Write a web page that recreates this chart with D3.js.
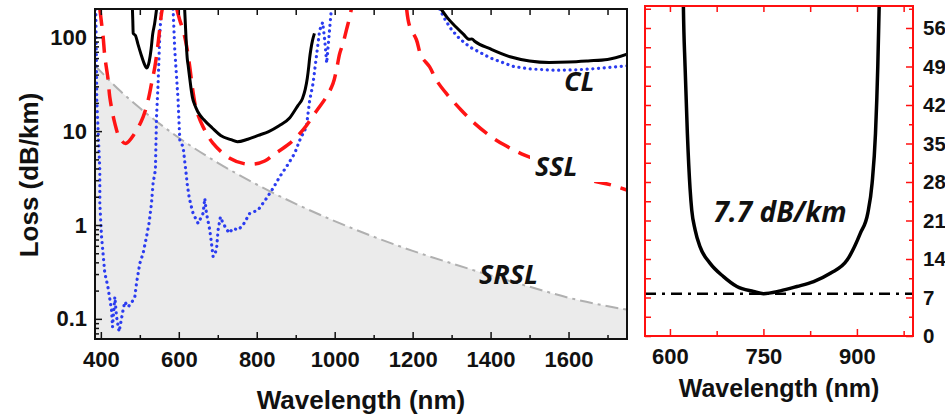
<!DOCTYPE html>
<html><head><meta charset="utf-8">
<script src="https://cdn.jsdelivr.net/npm/d3@7"></script>
<style>
body{margin:0;background:#fff;}
svg{display:block;}
text{font-family:"Liberation Sans",Arial,sans-serif;font-weight:bold;fill:#111;}
.lbl{font-family:"Open Sans","Lato",sans-serif;font-style:italic;font-weight:bold;}
</style></head><body>
<svg id="c" width="945" height="417"></svg>
<script>
// ---------- DATA ----------
// Left panel: loss (dB/km) vs wavelength (nm), log scale
const xTicksLeft = [400, 600, 800, 1000, 1200, 1400, 1600];
const yTicksLeft = [0.1, 1, 10, 100];
const yTickLabelsLeft = ["0.1", "1", "10", "100"];

// SRSL (surface roughness scattering loss) - grey dash-dot, filled
const srslWl   = [385, 450, 500, 600, 700, 800, 900, 1000, 1100, 1200, 1300, 1400, 1500, 1600, 1750];
const srslLoss = [50, 26.7, 17.6, 8.5, 4.6, 2.7, 1.68, 1.10, 0.75, 0.53, 0.39, 0.29, 0.22, 0.168, 0.125];

// CL (confinement loss, measured) - black solid, three segments
const clSeg1 = [[481,200],[482,150],[483,110],[489,104],[495,85],[503,66],[510,54],[518,47],[524,55],[529,75],[533,108],[538,140],[543,200]];
const clSeg2 = [[615,200],[618,110],[620,75],[621.6,59.9],[624.3,49],[628,36.8],[632.3,26.8],[635,22.9],[640.4,19.3],[648.4,16.2],[664.5,13.2],[685.9,10.8],[707.4,9.0],[734.1,8.1],[750.2,7.7],[777,8.2],[803.9,9.0],[830.6,9.9],[857.4,11.4],[884.3,13.8],[905.6,18.7],[917.4,22.3],[924.4,27.8],[929.8,36.8],[933.5,49],[935.7,59.9],[939,75],[943,92],[948,110]];
const clSeg3 = [[1273,200],[1290,160],[1310,130],[1330,108],[1345,95],[1352,96],[1360,90],[1400,75],[1450,62],[1500,56],[1550,54],[1600,54.5],[1650,56],[1700,58],[1750,66]];

// Blue dotted curve - three segments
const blueSeg1 = [[387,200],[389.7,21],[397.4,3.85],[397.4,1.71],[401.8,0.75],[410,0.31],[418,0.22],[427.4,0.125],[430,0.082],[435.9,0.171],[440.3,0.105],[446.9,0.073],[457.2,0.125],[461.5,0.152],[470,0.134],[478.7,0.148],[487.2,0.171],[491.5,0.24],[500,0.39],[508.5,0.5],[517.2,0.75],[523.8,1.05],[530,1.71],[534.1,2.8],[540,3.85],[542.8,14.1],[546.9,32],[551.3,110],[555.6,200]];
const blueSeg2 = [[585.4,200],[589.7,72.8],[598.2,21.4],[602.6,8.0],[611,6.8],[619.7,3.27],[621.3,2.78],[626.4,2.0],[630,1.7],[636.7,1.33],[649.5,1.04],[662.3,1.33],[666.7,1.92],[671,1.33],[679.5,0.885],[683.8,0.64],[688,0.46],[696.7,0.54],[700.8,0.885],[706.9,1.22],[713.6,1.04],[729,0.82],[739.2,0.92],[752,0.885],[764.9,1.0],[782,1.33],[803.3,1.44],[824.9,1.92],[841.8,2.46],[859,3.27],[876.2,4.17],[897.4,5.8],[910.3,8.0],[927.4,11.1],[935.9,21.4],[944.4,32],[953,62],[961.5,119],[969.2,144],[974.4,93],[979.5,53],[984.6,93],[991.5,200]];
const blueSeg3 = [[1269,200],[1285,150],[1300,120],[1320,97],[1346,79],[1400,60],[1457,49],[1500,46],[1568,44.5],[1620,45],[1671,46.4],[1750,49.5]];

// SSL (red dashed) - three segments
const sslSeg1 = [[397.4,200],[401.8,141],[405.9,100.7],[410.3,62],[418.7,35],[423,23],[435.9,12.1],[448.7,8.4],[464,7.4],[487.2,9.5],[508.5,14.2],[521.3,21.4],[530,32],[538.5,48.3],[546.9,86],[555.6,179],[557.7,200]];
const sslSeg2 = [[594.9,200],[602.6,152],[611,119],[619.7,82],[628.2,48.3],[635.9,27.3],[645.4,16.7],[662.3,11.1],[688,7.4],[730.8,5.13],[764.9,4.53],[794.9,4.46],[820.5,4.8],[841.8,5.56],[884.6,7.4],[918.7,10.3],[948.7,15.4],[978.7,23.2],[995.6,32],[1004.4,44.6],[1012.8,67],[1021.3,86],[1030,119],[1038.5,164],[1042.8,200]];
const sslSeg3 = [[1184.6,200],[1192.3,131],[1209.5,94.6],[1222.3,62.7],[1243.6,48.3],[1260.8,35],[1286.4,25.2],[1324.9,16.7],[1359,12.1],[1401.8,8.7],[1435.9,7.1],[1487.2,5.56],[1577,4.04],[1653.8,3.01],[1709.5,2.67],[1750,2.36]];

// Right panel: linear zoom on the CL minimum
const xTicksRight = [600, 750, 900];
const yTicksRight = [0, 7, 14, 21, 28, 35, 42, 49, 56];
const minLoss = 7.7;
const minLabel = "7.7 dB/km";

const curveLabels = ["CL", "SSL", "SRSL"];

// ---------- DRAW ----------
const svg = d3.select("#c");

// ===== Left panel =====
const L = {x0: 95, x1: 627, y0: 9, y1: 339};
const xL = d3.scaleLinear().domain([385, 1750]).range([L.x0, L.x1]);
const yL = d3.scaleLog().domain([0.061, 200]).range([L.y1, L.y0]);

svg.append("clipPath").attr("id", "clipL").append("rect")
  .attr("x", L.x0).attr("y", L.y0).attr("width", L.x1 - L.x0).attr("height", L.y1 - L.y0);
const gL = svg.append("g").attr("clip-path", "url(#clipL)");

const srsl = srslWl.map((w, i) => [w, srslLoss[i]]);
gL.append("path").datum(srsl)
  .attr("d", d3.area().x(d => xL(d[0])).y0(L.y1 + 5).y1(d => yL(d[1])).curve(d3.curveMonotoneX))
  .attr("fill", "#ebebeb");
gL.append("path").datum(srsl)
  .attr("d", d3.line().x(d => xL(d[0])).y(d => yL(d[1])).curve(d3.curveMonotoneX))
  .attr("fill", "none").attr("stroke", "#b0b0b0").attr("stroke-width", 2)
  .attr("stroke-dasharray", "13,5,3,5");

const lineL = d3.line().x(d => xL(d[0])).y(d => yL(d[1]));
const smoothL = d3.line().x(d => xL(d[0])).y(d => yL(d[1])).curve(d3.curveCatmullRom);
const monoL = d3.line().x(d => xL(d[0])).y(d => yL(d[1])).curve(d3.curveMonotoneX);

[blueSeg1, blueSeg2, blueSeg3].forEach(s => {
  gL.append("path").datum(s).attr("d", lineL)
    .attr("fill", "none").attr("stroke", "#2b3cf0").attr("stroke-width", 3.2)
    .attr("stroke-linecap", "round").attr("stroke-dasharray", "0.1,5.6");
});
[sslSeg1, sslSeg2, sslSeg3].forEach(s => {
  gL.append("path").datum(s).attr("d", smoothL)
    .attr("fill", "none").attr("stroke", "#ff1414").attr("stroke-width", 3.5)
    .attr("stroke-dasharray", "17,10");
});
[clSeg1, clSeg2, clSeg3].forEach(s => {
  gL.append("path").datum(s).attr("d", monoL)
    .attr("fill", "none").attr("stroke", "#000").attr("stroke-width", 3)
    .attr("stroke-linejoin", "round");
});

// labels
svg.append("rect").attr("x", 530).attr("y", 148).attr("width", 76).attr("height", 34).attr("fill", "#fff");
svg.append("text").attr("class", "lbl").attr("x", 564).attr("y", 91).attr("font-size", 27).text(curveLabels[0]);
svg.append("text").attr("class", "lbl").attr("x", 535).attr("y", 176).attr("font-size", 27).text(curveLabels[1]);
svg.append("text").attr("class", "lbl").attr("x", 479).attr("y", 284).attr("font-size", 27).text(curveLabels[2]);

// axes left panel
const minorX = d3.range(400, 1750, 100).filter(v => !xTicksLeft.includes(v));
svg.append("g").attr("transform", `translate(0,${L.y1})`)
  .call(d3.axisBottom(xL).tickValues(xTicksLeft).tickSize(-7).tickPadding(12).tickFormat(d3.format("d")));
svg.append("g").attr("transform", `translate(0,${L.y1})`)
  .call(d3.axisBottom(xL).tickValues(minorX).tickSize(-4).tickFormat(""));
svg.append("g").attr("transform", `translate(0,${L.y0})`)
  .call(d3.axisTop(xL).tickValues(d3.range(400, 1750, 100)).tickSize(-6).tickFormat(""));
svg.append("g").attr("transform", `translate(${L.x0},0)`)
  .call(d3.axisLeft(yL).tickValues(yTicksLeft).tickSize(-7).tickPadding(8).tickFormat((d, i) => yTickLabelsLeft[i]));
const minorY = [];
[0.01, 0.1, 1, 10, 100].forEach(b => { for (let k = 2; k <= 9; k++) { const v = b * k; if (v > 0.061 && v < 200) minorY.push(v); } });
svg.append("g").attr("transform", `translate(${L.x0},0)`)
  .call(d3.axisLeft(yL).tickValues(minorY).tickSize(-4).tickFormat(""));
svg.selectAll("g .domain").remove();
svg.selectAll("g .tick line").attr("stroke", "#111").attr("stroke-width", 1.5);
svg.selectAll("g .tick text").attr("font-size", 22).attr("fill", "#111");

svg.append("rect").attr("x", L.x0).attr("y", L.y0).attr("width", L.x1 - L.x0).attr("height", L.y1 - L.y0)
  .attr("fill", "none").attr("stroke", "#111").attr("stroke-width", 2);

svg.append("text").attr("x", (L.x0 + L.x1) / 2).attr("y", 409).attr("text-anchor", "middle")
  .attr("font-size", 26).text("Wavelength (nm)");
svg.append("text").attr("transform", "translate(38,175) rotate(-90)").attr("text-anchor", "middle")
  .attr("font-size", 26).text("Loss (dB/km)");

// ===== Right panel =====
const R = {x0: 645, x1: 913, y0: 6, y1: 336};
const xR = d3.scaleLinear().domain([560, 990]).range([R.x0, R.x1]);
const yR = d3.scaleLinear().domain([0, 60]).range([R.y1, R.y0]);

svg.append("clipPath").attr("id", "clipR").append("rect")
  .attr("x", R.x0).attr("y", R.y0).attr("width", R.x1 - R.x0).attr("height", R.y1 - R.y0);
const gR = svg.append("g").attr("clip-path", "url(#clipR)");
gR.append("path").datum(clSeg2)
  .attr("d", d3.line().x(d => xR(d[0])).y(d => yR(d[1])).curve(d3.curveMonotoneX))
  .attr("fill", "none").attr("stroke", "#000").attr("stroke-width", 3.5).attr("stroke-linejoin", "round");
gR.append("line").attr("x1", R.x0).attr("x2", R.x1).attr("y1", yR(minLoss)).attr("y2", yR(minLoss))
  .attr("stroke", "#000").attr("stroke-width", 2.5).attr("stroke-dasharray", "11,6,3,6");

svg.append("text").attr("class", "lbl").attr("x", 780).attr("y", 222).attr("text-anchor", "middle")
  .attr("font-size", 28).text(minLabel);

const rg = svg.append("g").attr("class", "raxes");
const minorXR = [675, 825, 975];
rg.append("g").attr("transform", `translate(0,${R.y1})`)
  .call(d3.axisBottom(xR).tickValues(xTicksRight).tickSize(-7).tickPadding(12).tickFormat(d3.format("d")));
rg.append("g").attr("transform", `translate(0,${R.y1})`)
  .call(d3.axisBottom(xR).tickValues(minorXR).tickSize(-5).tickFormat(""));
rg.append("g").attr("transform", `translate(0,${R.y0})`)
  .call(d3.axisTop(xR).tickValues(xTicksRight.concat(minorXR)).tickSize(-6).tickFormat(""));
rg.append("g").attr("transform", `translate(${R.x1},0)`)
  .call(d3.axisRight(yR).tickValues(yTicksRight).tickSize(-7).tickPadding(10).tickFormat(d3.format("d")));
const minorYR = yTicksRight.map(v => v + 3.5);
rg.append("g").attr("transform", `translate(${R.x1},0)`)
  .call(d3.axisRight(yR).tickValues(minorYR).tickSize(-4).tickFormat(""));
rg.append("g").attr("transform", `translate(${R.x0},0)`)
  .call(d3.axisLeft(yR).tickValues(yTicksRight.concat(minorYR)).tickSize(-6).tickFormat(""));
rg.selectAll(".domain").remove();
rg.selectAll(".tick line").attr("stroke", "#ff1010").attr("stroke-width", 1.5);
rg.selectAll(".tick text").attr("font-size", 22).attr("fill", "#111");
rg.selectAll("g").filter(function(){ return this.parentNode === rg.node(); })
  .filter((d, i) => i === 3).selectAll(".tick text").attr("font-size", 20.5);

svg.append("rect").attr("x", R.x0).attr("y", R.y0).attr("width", R.x1 - R.x0).attr("height", R.y1 - R.y0)
  .attr("fill", "none").attr("stroke", "#ff1010").attr("stroke-width", 2);
svg.append("text").attr("x", (R.x0 + R.x1) / 2).attr("y", 397).attr("text-anchor", "middle")
  .attr("font-size", 25).text("Wavelength (nm)");
</script></body></html>
